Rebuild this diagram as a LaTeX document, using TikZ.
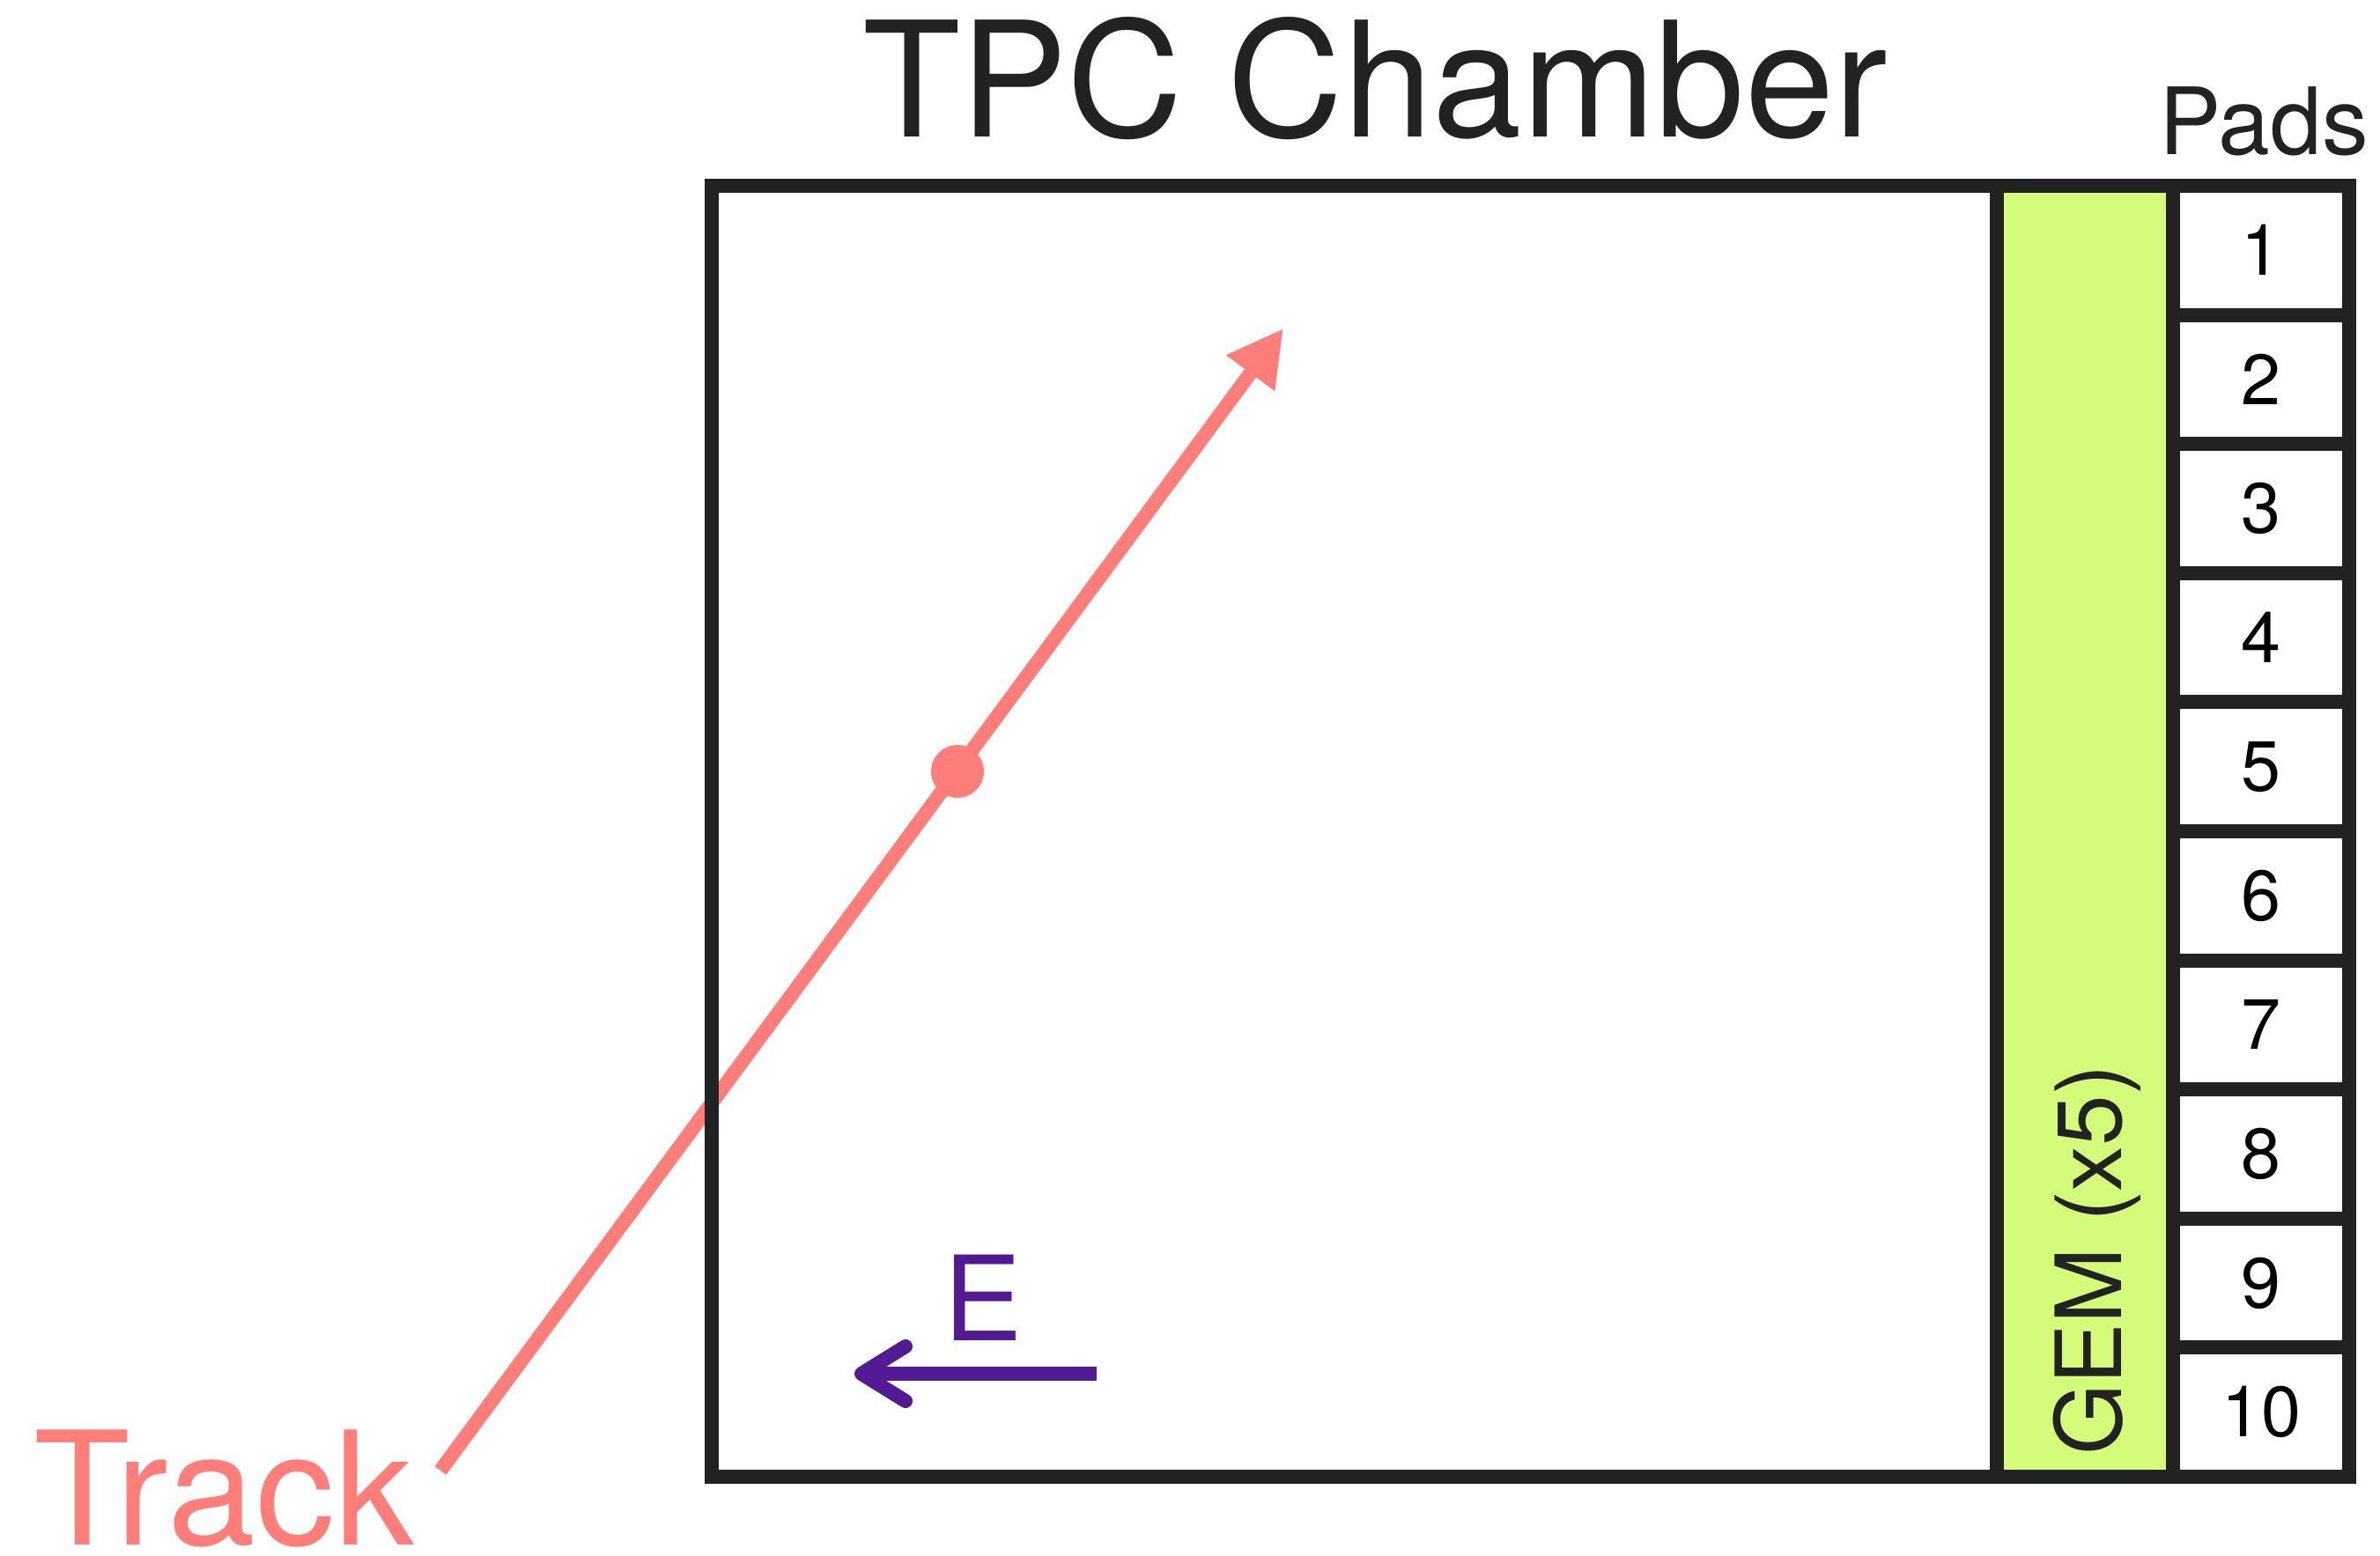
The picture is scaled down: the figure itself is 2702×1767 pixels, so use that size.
\documentclass[tikz,border=0pt]{standalone}
\usepackage{fontspec}
\setmainfont{TeX Gyre Heros}
\usetikzlibrary{arrows.meta}
\definecolor{ink}{RGB}{34,34,34}
\definecolor{lime}{RGB}{212,251,121}
\definecolor{salmon}{RGB}{255,126,121}
\definecolor{grape}{RGB}{83,27,147}
\begin{document}
\begin{tikzpicture}[x=0.01cm,y=-0.01cm,line width=0.16cm,every node/.style={inner sep=0pt,outer sep=0pt},
box/.style={draw=ink,rectangle,minimum height=14.66cm},pad/.style={draw=ink,rectangle,minimum width=2cm,minimum height=1.466cm,font=\fontsize{23}{26}\selectfont},
track/.style={salmon,-{Triangle[length=0.63cm,width=0.64cm]}},efield/.style={grape,-{Straight Barb[length=0.5cm,width=0.62cm,line cap=round,line join=round]}}]
\useasboundingbox (0,0) rectangle (2702,1767);
\coordinate (trackstart) at (500,1670);\coordinate (tracktip) at (1457,373);
\draw[track] (trackstart)--(tracktip);
\node[circle,fill=salmon,minimum size=0.6cm] (hit) at (1087,876) {};
\node[anchor=base west,text=salmon,font=\fontsize{51}{56}\selectfont] (tracklabel) at (38,1754) {Track};
\node[box,minimum width=14.59cm] (chamber) at (1537.5,944) {};
\node[box,fill=lime,minimum width=2cm] (gem) at (2367,944) {};
\node[rotate=90,anchor=base,text=ink,font=\fontsize{29.5}{32}\selectfont] (gemlabel) at (2408,1431) {GEM (x5)};
\foreach \i in {1,...,10}{\node[pad] (p\i) at (2567,{211+146.6*(\i-0.5)}) {\i};}
\node[anchor=base,text=ink,font=\fontsize{51.8}{58}\selectfont] (title) at (1561,156) {TPC Chamber};
\node[anchor=base,text=ink,font=\fontsize{30}{34}\selectfont] (padlabel) at (2570,176) {Pads};
\coordinate (etail) at (1245,1560);\coordinate (ehead) at (970,1560);
\draw[efield] (etail)--(ehead);
\node[anchor=base,text=grape,font=\fontsize{38}{42}\selectfont] (elabel) at (1116,1522) {E};
\end{tikzpicture}
\end{document}
